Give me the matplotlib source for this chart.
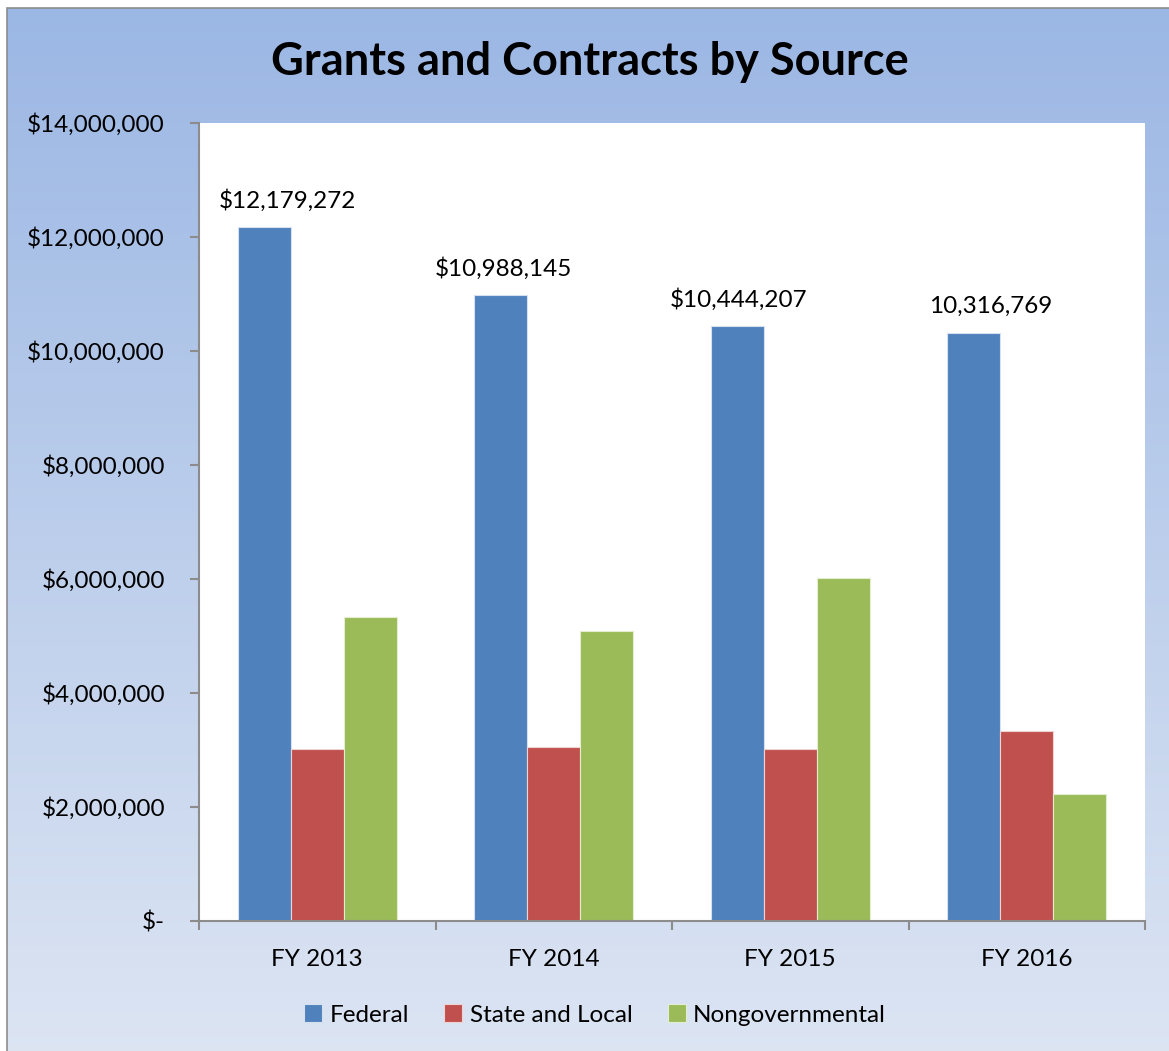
import matplotlib.pyplot as plt
import numpy as np
from matplotlib.patches import Rectangle
from matplotlib.ticker import FuncFormatter

years = ['FY 2013', 'FY 2014', 'FY 2015', 'FY 2016']
federal = [12179272, 10988145, 10444207, 10316769]
state_local = [3010000, 3050000, 3010000, 3330000]
nongov = [5330000, 5080000, 6010000, 2220000]
fed_labels = ['$12,179,272', '$10,988,145', '$10,444,207', '10,316,769']
label_shift = [17, 2, 1, 12]  # horizontal nudge of the labels, points

plt.rcParams['font.family'] = ['Lato', 'DejaVu Sans']

fig = plt.figure(figsize=(11.69, 10.51), dpi=100)

# gradient background of the chart area, with a thin grey frame
bg = fig.add_axes([0, 0, 1, 1], zorder=0)
top = np.array([155, 183, 228]) / 255
bot = np.array([221, 229, 243]) / 255
t = np.linspace(0, 1, 256)[:, None]
grad = (top * (1 - t) + bot * t)[:, None, :]
x0, y1 = 7 / 1169, 1 - 8 / 1051
bg.imshow(grad, extent=[x0, 1.01, -0.01, y1], aspect='auto', origin='upper')
bg.add_patch(Rectangle((x0, -0.01), 1.02, y1 + 0.01, fill=False,
                       edgecolor='#8c8c8c', linewidth=1.2))
bg.set_xlim(0, 1)
bg.set_ylim(0, 1)
bg.axis('off')

ax = fig.add_axes([199 / 1169, 1 - 921 / 1051, 946 / 1169, 798 / 1051], zorder=1)
ax.set_facecolor('white')

x = np.arange(len(years))
w = 0.224
b1 = ax.bar(x - w, federal, w, color='#4F81BD', edgecolor='#d6e0ef', linewidth=0.8, label='Federal')
ax.bar(x, state_local, w, color='#C0504D', edgecolor='#efd3d2', linewidth=0.8, label='State and Local')
ax.bar(x + w, nongov, w, color='#9BBB59', edgecolor='#e3edcf', linewidth=0.8, label='Nongovernmental')

for rect, txt, dx in zip(b1, fed_labels, label_shift):
    ax.annotate(txt, (rect.get_x() + rect.get_width() / 2, rect.get_height()),
                xytext=(dx, 19), textcoords='offset points',
                ha='center', va='center', fontsize=17.5)

ax.set_xlim(-0.5, 3.5)
ax.set_ylim(0, 14000000)
ax.set_yticks(np.arange(0, 14000001, 2000000))
ax.yaxis.set_major_formatter(FuncFormatter(lambda v, p: '$-' if v == 0 else '${:,.0f}'.format(v)))
ax.set_xticks(np.arange(-0.5, 4, 1))
ax.set_xticklabels([])
ax.set_xticks(x, minor=True)
ax.set_xticklabels(years, minor=True)
ax.tick_params(axis='x', which='minor', length=0, pad=20, labelsize=17.5)
ax.tick_params(axis='x', which='major', length=6.5, width=1.5, color='#8c8c8c', direction='out')
ax.tick_params(axis='y', length=6.5, width=1.5, color='#8c8c8c', direction='out', pad=18, labelsize=17.5)

for s in ['top', 'right']:
    ax.spines[s].set_visible(False)
for s in ['left', 'bottom']:
    ax.spines[s].set_color('#8c8c8c')
    ax.spines[s].set_linewidth(1.5)

fig.text(590 / 1169, 1 - 62 / 1051, 'Grants and Contracts by Source',
         ha='center', va='center', fontsize=32.5, fontweight='bold')

fig.legend(loc='center', bbox_to_anchor=(595 / 1169, 1 - 1015 / 1051), ncol=3,
           frameon=False, fontsize=17.5, handlelength=0.75, handleheight=0.75,
           handletextpad=0.3, columnspacing=1.45)

fig.savefig('out.png', dpi=100)
